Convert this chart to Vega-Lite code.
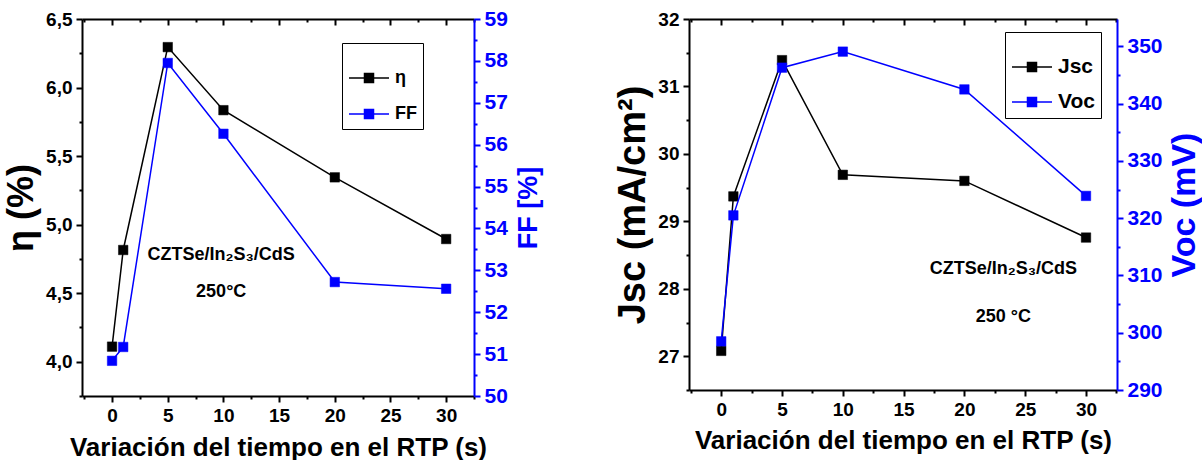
{
  "$schema": "https://vega.github.io/schema/vega-lite/v6.json",
  "padding": {"left": 3, "top": 8, "right": 0, "bottom": 0},
  "spacing": 215,
  "bounds": "flush",
  "config": {
    "view": {"stroke": null},
    "axis": {
      "domainColor": "#000000", "domainWidth": 2, "tickColor": "#000000", "tickWidth": 2,
      "labelFont": "Liberation Sans, Arial, sans-serif", "labelFontWeight": "bold", "labelFontSize": 19, "labelColor": "#000000",
      "grid": false, "titleFont": "Liberation Sans, Arial, sans-serif", "titleFontWeight": "bold", "titleColor": "#000000",
      "labelOverlap": false, "labelBound": false, "labelFlush": false
    },
    "legend": {
      "symbolType": "M-1,0H0.55M1.45,0H3M0.55,-0.45H1.45V0.45H0.55Z",
      "symbolSize": 400, "symbolStrokeWidth": 1.5, "labelOffset": 25,
      "labelFont": "Liberation Sans, Arial, sans-serif", "labelFontWeight": "bold", "labelColor": "#000000",
      "strokeColor": "#000000", "fillColor": "#ffffff", "padding": 6,
      "titleFontSize": 12, "titlePadding": 6
    }
  },
  "datasets": {
    "eta": [
      {"t": 0, "valor": 4.11, "serie": "η"},
      {"t": 1, "valor": 4.815, "serie": "η"},
      {"t": 5, "valor": 6.295, "serie": "η"},
      {"t": 10, "valor": 5.835, "serie": "η"},
      {"t": 20, "valor": 5.345, "serie": "η"},
      {"t": 30, "valor": 4.895, "serie": "η"}
    ],
    "ff": [
      {"t": 0, "valor": 50.84, "serie": "FF"},
      {"t": 1, "valor": 51.17, "serie": "FF"},
      {"t": 5, "valor": 57.95, "serie": "FF"},
      {"t": 10, "valor": 56.26, "serie": "FF"},
      {"t": 20, "valor": 52.72, "serie": "FF"},
      {"t": 30, "valor": 52.56, "serie": "FF"}
    ],
    "jsc": [
      {"t": 0, "valor": 27.08, "serie": "Jsc"},
      {"t": 1, "valor": 29.37, "serie": "Jsc"},
      {"t": 5, "valor": 31.39, "serie": "Jsc"},
      {"t": 10, "valor": 29.69, "serie": "Jsc"},
      {"t": 20, "valor": 29.6, "serie": "Jsc"},
      {"t": 30, "valor": 28.76, "serie": "Jsc"}
    ],
    "voc": [
      {"t": 0, "valor": 298.5, "serie": "Voc"},
      {"t": 1, "valor": 320.5, "serie": "Voc"},
      {"t": 5, "valor": 346.3, "serie": "Voc"},
      {"t": 10, "valor": 349.1, "serie": "Voc"},
      {"t": 20, "valor": 342.5, "serie": "Voc"},
      {"t": 30, "valor": 323.9, "serie": "Voc"}
    ],
    "notas1": [{"nota": "CZTSe/In₂S₃/CdS", "fila": 1}, {"nota": "250°C", "fila": 2}],
    "notas2": [{"nota": "CZTSe/In₂S₃/CdS", "fila": 1}, {"nota": "250 °C", "fila": 2}]
  },
  "hconcat": [
    {
      "width": 392, "height": 377,
      "layer": [
        {
          "data": {"name": "eta"},
          "encoding": {
            "x": {"field": "t", "type": "quantitative", "scale": {"domain": [-2.7, 32.5], "nice": false, "zero": false},
              "axis": {"orient": "bottom", "values": [-2.5, 0, 2.5, 5, 7.5, 10, 12.5, 15, 17.5, 20, 22.5, 25, 27.5, 30, 32.5],
                "labelExpr": "datum.value % 5 !== 0 ? '' : datum.label",
                "tickSize": {"condition": {"test": "datum.value % 5 !== 0", "value": 3}, "value": 6},
                "labelPadding": 4,
                "title": "Variación del tiempo en el RTP (s)", "titleFontSize": 26, "titlePadding": 9}},
            "y": {"field": "valor", "type": "quantitative", "scale": {"domain": [3.75, 6.5], "nice": false, "zero": false},
              "axis": {"orient": "left", "values": [3.75, 4, 4.25, 4.5, 4.75, 5, 5.25, 5.5, 5.75, 6, 6.25, 6.5],
                "labelExpr": "(datum.value*2) % 1 !== 0 ? '' : replace(format(datum.value, '.1f'), '.', ',')",
                "tickSize": {"condition": {"test": "(datum.value*2) % 1 !== 0", "value": 3}, "value": 6},
                "labelPadding": 4,
                "title": "η (%)", "titleFontSize": 36, "titlePadding": 5}},
            "stroke": {"field": "serie", "type": "nominal", "scale": {"domain": ["η", "FF"], "range": ["#000000", "#0000ff"]},
              "legend": {"orient": "none", "legendX": 260, "legendY": 24, "title": " ", "labelFontSize": 18, "rowPadding": 16}}
          },
          "layer": [
            {"mark": {"type": "line", "strokeWidth": 1.5}},
            {"mark": {"type": "square", "size": 90, "filled": true, "opacity": 1, "strokeWidth": 0.5},
              "encoding": {
                "fill": {"field": "serie", "type": "nominal", "scale": {"domain": ["η", "FF"], "range": ["#000000", "#0000ff"]},
                  "legend": {"orient": "none", "legendX": 260, "legendY": 24, "title": " ", "labelFontSize": 18, "rowPadding": 16}}}}
          ]
        },
        {
          "data": {"name": "ff"},
          "encoding": {
            "x": {"field": "t", "type": "quantitative", "scale": {"domain": [-2.7, 32.5], "nice": false, "zero": false},
              "axis": {"orient": "top", "values": [-2.5, 0, 2.5, 5, 7.5, 10, 12.5, 15, 17.5, 20, 22.5, 25, 27.5, 30, 32.5],
                "labels": false, "title": null,
                "tickSize": {"condition": {"test": "datum.value % 5 !== 0", "value": -3}, "value": -6}}},
            "y": {"field": "valor", "type": "quantitative", "scale": {"domain": [50, 59], "nice": false, "zero": false},
              "axis": {"orient": "right", "values": [50, 50.5, 51, 51.5, 52, 52.5, 53, 53.5, 54, 54.5, 55, 55.5, 56, 56.5, 57, 57.5, 58, 58.5, 59],
                "labelExpr": "datum.value % 1 !== 0 ? '' : format(datum.value, 'd')",
                "tickSize": {"condition": {"test": "datum.value % 1 !== 0", "value": 3}, "value": 6},
                "labelPadding": 4, "labelColor": "#0000ff", "labelFontSize": 21,
                "domainColor": "#0000ff", "tickColor": "#0000ff",
                "title": "FF [%]", "titleColor": "#0000ff", "titleFontSize": 27, "titlePadding": 8,
                "titleAngle": -90, "titleBaseline": "top"}},
            "stroke": {"field": "serie", "type": "nominal", "scale": {"domain": ["η", "FF"], "range": ["#000000", "#0000ff"]},
              "legend": {"orient": "none", "legendX": 260, "legendY": 24, "title": " ", "labelFontSize": 18, "rowPadding": 16}}
          },
          "layer": [
            {"mark": {"type": "line", "strokeWidth": 1.5}},
            {"mark": {"type": "square", "size": 90, "filled": true, "opacity": 1, "strokeWidth": 0.5},
              "encoding": {
                "fill": {"field": "serie", "type": "nominal", "scale": {"domain": ["η", "FF"], "range": ["#000000", "#0000ff"]},
                  "legend": {"orient": "none", "legendX": 260, "legendY": 24, "title": " ", "labelFontSize": 18, "rowPadding": 16}}}}
          ]
        },
        {
          "data": {"name": "notas1"},
          "layer": [
            {"transform": [{"filter": "datum.fila === 1"}],
              "mark": {"type": "text", "font": "Liberation Sans, Arial, sans-serif", "fontWeight": "bold", "fontSize": 18, "fill": "#000000"},
              "encoding": {
                "x": {"datum": 9.8, "type": "quantitative", "axis": null},
                "y": {"datum": 4.78, "type": "quantitative", "scale": {"domain": [3.75, 6.5], "nice": false, "zero": false}, "axis": null},
                "text": {"field": "nota", "type": "nominal"}}},
            {"transform": [{"filter": "datum.fila === 2"}],
              "mark": {"type": "text", "font": "Liberation Sans, Arial, sans-serif", "fontWeight": "bold", "fontSize": 18, "fill": "#000000"},
              "encoding": {
                "x": {"datum": 9.8, "type": "quantitative", "axis": null},
                "y": {"datum": 4.51, "type": "quantitative", "scale": {"domain": [3.75, 6.5], "nice": false, "zero": false}, "axis": null},
                "text": {"field": "nota", "type": "nominal"}}}
          ]
        }
      ],
      "resolve": {"scale": {"y": "independent"}, "axis": {"x": "independent", "y": "independent"}}
    },
    {
      "width": 428, "height": 371,
      "layer": [
        {
          "data": {"name": "jsc"},
          "encoding": {
            "x": {"field": "t", "type": "quantitative", "scale": {"domain": [-2.65, 32.55], "nice": false, "zero": false},
              "axis": {"orient": "bottom", "values": [-2.5, 0, 2.5, 5, 7.5, 10, 12.5, 15, 17.5, 20, 22.5, 25, 27.5, 30, 32.5],
                "labelExpr": "datum.value % 5 !== 0 ? '' : datum.label",
                "tickSize": {"condition": {"test": "datum.value % 5 !== 0", "value": 3}, "value": 6},
                "labelPadding": 4,
                "title": "Variación del tiempo en el RTP (s)", "titleFontSize": 26, "titlePadding": 8}},
            "y": {"field": "valor", "type": "quantitative", "scale": {"domain": [26.5, 32], "nice": false, "zero": false},
              "axis": {"orient": "left", "values": [26.5, 27, 27.5, 28, 28.5, 29, 29.5, 30, 30.5, 31, 31.5, 32],
                "labelExpr": "datum.value % 1 !== 0 ? '' : format(datum.value, 'd')",
                "tickSize": {"condition": {"test": "datum.value % 1 !== 0", "value": 3}, "value": 6},
                "labelPadding": 4,
                "title": "Jsc (mA/cm²)", "titleFontSize": 38, "titlePadding": 5}},
            "stroke": {"field": "serie", "type": "nominal", "scale": {"domain": ["Jsc", "Voc"], "range": ["#000000", "#0000ff"]},
              "legend": {"orient": "none", "legendX": 316, "legendY": 13, "title": " ", "labelFontSize": 21, "rowPadding": 14}}
          },
          "layer": [
            {"mark": {"type": "line", "strokeWidth": 1.5}},
            {"mark": {"type": "square", "size": 90, "filled": true, "opacity": 1, "strokeWidth": 0.5},
              "encoding": {
                "fill": {"field": "serie", "type": "nominal", "scale": {"domain": ["Jsc", "Voc"], "range": ["#000000", "#0000ff"]},
                  "legend": {"orient": "none", "legendX": 316, "legendY": 13, "title": " ", "labelFontSize": 21, "rowPadding": 14}}}}
          ]
        },
        {
          "data": {"name": "voc"},
          "encoding": {
            "x": {"field": "t", "type": "quantitative", "scale": {"domain": [-2.65, 32.55], "nice": false, "zero": false},
              "axis": {"orient": "top", "values": [-2.5, 0, 2.5, 5, 7.5, 10, 12.5, 15, 17.5, 20, 22.5, 25, 27.5, 30, 32.5],
                "labels": false, "title": null,
                "tickSize": {"condition": {"test": "datum.value % 5 !== 0", "value": -3}, "value": -6}}},
            "y": {"field": "valor", "type": "quantitative", "scale": {"domain": [290, 354.8], "nice": false, "zero": false},
              "axis": {"orient": "right", "values": [290, 295, 300, 305, 310, 315, 320, 325, 330, 335, 340, 345, 350],
                "labelExpr": "datum.value % 10 !== 0 ? '' : format(datum.value, 'd')",
                "tickSize": {"condition": {"test": "datum.value % 10 !== 0", "value": 3}, "value": 6},
                "labelPadding": 4, "labelColor": "#0000ff", "labelFontSize": 21,
                "domainColor": "#0000ff", "tickColor": "#0000ff",
                "title": "Voc (mV)", "titleColor": "#0000ff", "titleFontSize": 34, "titlePadding": 5,
                "titleAngle": -90, "titleBaseline": "top"}},
            "stroke": {"field": "serie", "type": "nominal", "scale": {"domain": ["Jsc", "Voc"], "range": ["#000000", "#0000ff"]},
              "legend": {"orient": "none", "legendX": 316, "legendY": 13, "title": " ", "labelFontSize": 21, "rowPadding": 14}}
          },
          "layer": [
            {"mark": {"type": "line", "strokeWidth": 1.5}},
            {"mark": {"type": "square", "size": 90, "filled": true, "opacity": 1, "strokeWidth": 0.5},
              "encoding": {
                "fill": {"field": "serie", "type": "nominal", "scale": {"domain": ["Jsc", "Voc"], "range": ["#000000", "#0000ff"]},
                  "legend": {"orient": "none", "legendX": 316, "legendY": 13, "title": " ", "labelFontSize": 21, "rowPadding": 14}}}}
          ]
        },
        {
          "data": {"name": "notas2"},
          "layer": [
            {"transform": [{"filter": "datum.fila === 1"}],
              "mark": {"type": "text", "font": "Liberation Sans, Arial, sans-serif", "fontWeight": "bold", "fontSize": 18, "fill": "#000000"},
              "encoding": {
                "x": {"datum": 23.2, "type": "quantitative", "axis": null},
                "y": {"datum": 28.29, "type": "quantitative", "scale": {"domain": [26.5, 32], "nice": false, "zero": false}, "axis": null},
                "text": {"field": "nota", "type": "nominal"}}},
            {"transform": [{"filter": "datum.fila === 2"}],
              "mark": {"type": "text", "font": "Liberation Sans, Arial, sans-serif", "fontWeight": "bold", "fontSize": 18, "fill": "#000000"},
              "encoding": {
                "x": {"datum": 23.2, "type": "quantitative", "axis": null},
                "y": {"datum": 27.58, "type": "quantitative", "scale": {"domain": [26.5, 32], "nice": false, "zero": false}, "axis": null},
                "text": {"field": "nota", "type": "nominal"}}}
          ]
        }
      ],
      "resolve": {"scale": {"y": "independent"}, "axis": {"x": "independent", "y": "independent"}}
    }
  ],
  "resolve": {
    "scale": {"x": "independent", "y": "independent", "stroke": "independent", "fill": "independent"},
    "legend": {"stroke": "independent", "fill": "independent"}
  }
}
